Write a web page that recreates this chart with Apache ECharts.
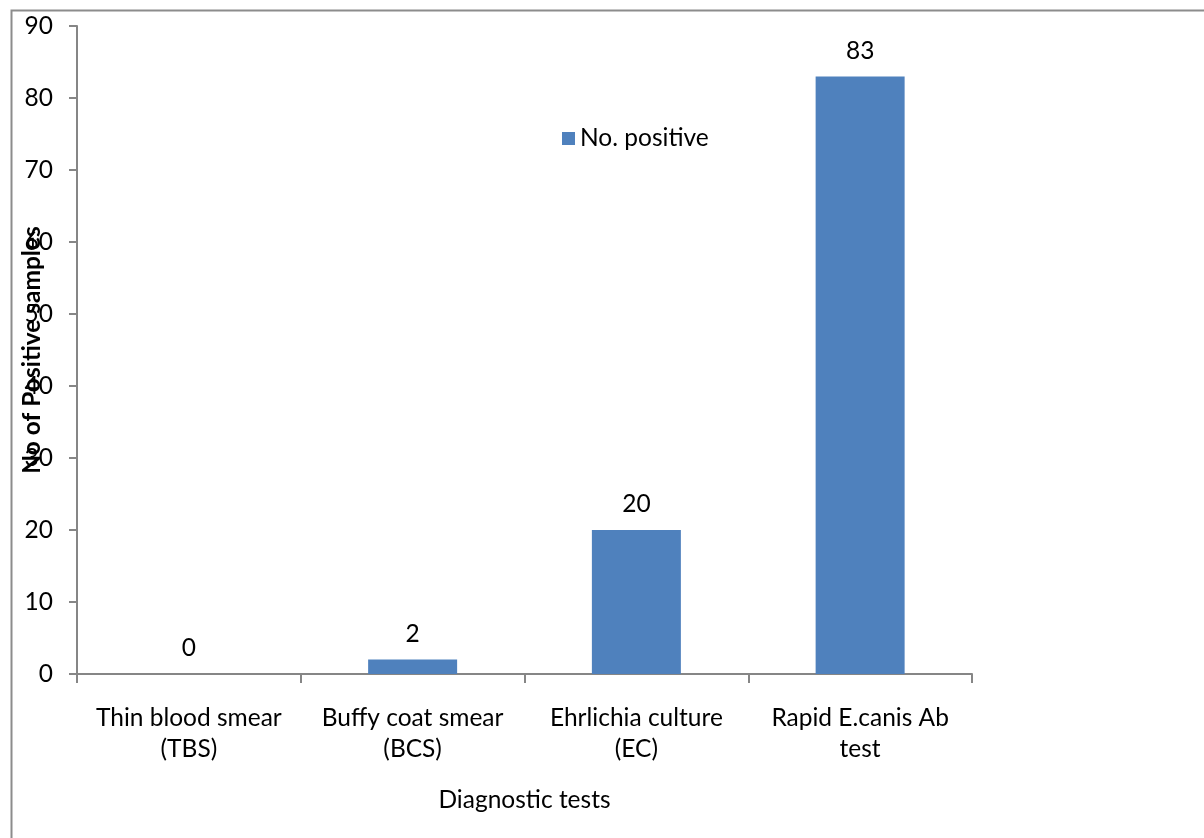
<!DOCTYPE html>
<html>
<head>
<meta charset="utf-8">
<script src="https://cdn.jsdelivr.net/npm/echarts@6/dist/echarts.min.js"></script>
<style>
  html, body { margin: 0; padding: 0; background: #fff; }
  #chart { width: 1204px; height: 838px; }
</style>
</head>
<body>
<div id="chart"></div>
<script>
// Diagnostic test categories and their positive sample counts
const categories = [
  'Thin blood smear\n(TBS)',
  'Buffy coat smear\n(BCS)',
  'Ehrlichia culture\n(EC)',
  'Rapid E.canis Ab\ntest'
];
const positives = [0, 2, 20, 83];
const seriesName = 'No. positive';
const yTitle = 'No of Positive samples';
const xTitle = 'Diagnostic tests';

const FONT = 'Lato';
const FS = 24.5;
const AXIS_GREY = '#868686';

const chart = echarts.init(document.getElementById('chart'), null, { renderer: 'canvas' });

chart.setOption({
  backgroundColor: '#ffffff',
  animation: false,
  textStyle: { fontFamily: FONT, color: '#000' },
  grid: {
    left: 77, right: 232, top: 26, bottom: 164,
    containLabel: false,
    outerBoundsMode: 'none'
  },
  legend: {
    data: [seriesName],
    left: 557,
    top: 121,
    itemWidth: 13,
    itemHeight: 13,
    itemGap: 10,
    icon: 'rect',
    textStyle: { fontFamily: FONT, fontSize: FS, color: '#000' }
  },
  xAxis: {
    type: 'category',
    data: categories,
    name: xTitle,
    nameLocation: 'middle',
    nameGap: 114,
    nameMoveOverlap: false,
    nameTextStyle: { fontFamily: FONT, fontSize: FS, color: '#000' },
    axisLine: { lineStyle: { color: AXIS_GREY, width: 2 } },
    axisTick: { show: true, length: 9, alignWithLabel: false, lineStyle: { color: AXIS_GREY, width: 2 } },
    axisLabel: {
      fontFamily: FONT, fontSize: FS, color: '#000',
      margin: 29, lineHeight: 31, interval: 0
    },
    splitLine: { show: false }
  },
  yAxis: {
    type: 'value',
    min: 0,
    max: 90,
    interval: 10,
    name: yTitle,
    nameLocation: 'middle',
    nameGap: 32,
    nameRotate: 90,
    nameMoveOverlap: false,
    nameTextStyle: { fontFamily: FONT, fontSize: FS, fontWeight: 'bold', color: '#000' },
    axisLine: { show: true, lineStyle: { color: AXIS_GREY, width: 2 } },
    axisTick: { show: true, length: 8, lineStyle: { color: AXIS_GREY, width: 2 } },
    axisLabel: { fontFamily: FONT, fontSize: FS, color: '#000', margin: 24 },
    splitLine: { show: false }
  },
  series: [{
    name: seriesName,
    type: 'bar',
    data: positives,
    barWidth: 89,
    itemStyle: { color: '#4F81BD' },
    label: {
      show: true,
      position: 'top',
      distance: 13,
      fontFamily: FONT,
      fontSize: FS,
      color: '#000'
    }
  }],
  graphic: [{
    type: 'rect',
    left: 9,
    top: 8,
    shape: { x: 0, y: 0, width: 1220, height: 860 },
    style: { fill: 'none', stroke: '#8c8c8c', lineWidth: 2 },
    silent: true,
    z: -1
  }]
});
</script>
</body>
</html>
